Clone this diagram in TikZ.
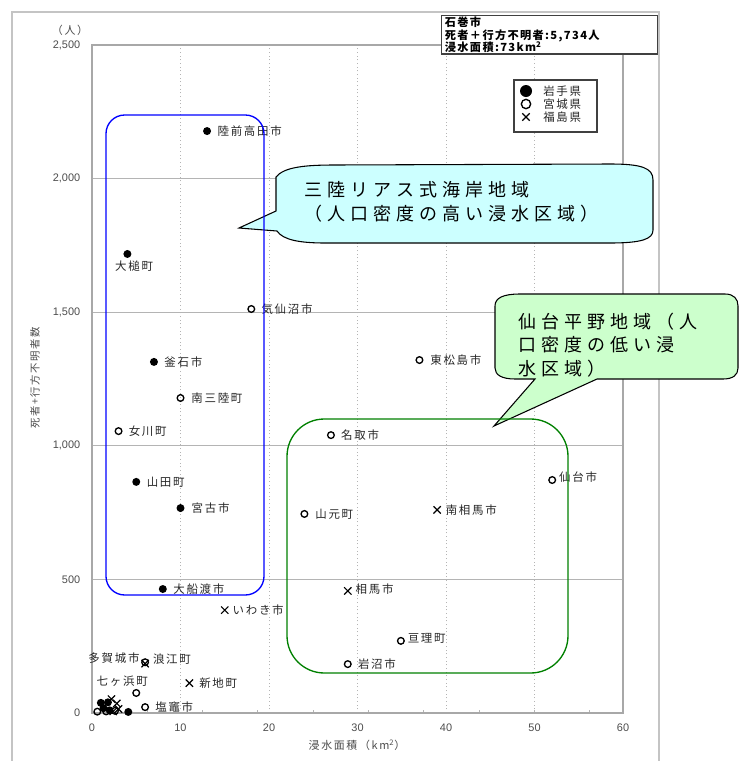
\documentclass[tikz,border=0pt]{standalone}
\usepackage{fontspec}
\setmainfont{Liberation Sans}
\newfontfamily\jpfont{Noto Sans CJK JP}[LetterSpace=15]
\newfontfamily\jpwide{Noto Sans CJK JP}[LetterSpace=28]
\newfontfamily\jpbox{Noto Sans CJK JP}[LetterSpace=12]
\usepackage{xcolor}
\usetikzlibrary{positioning}
\usetikzlibrary{shapes.misc}

\definecolor{framegray}{HTML}{C4C4C4}
\definecolor{gridgray}{HTML}{B4B4B4}
\definecolor{axisgray}{HTML}{A8A8A8}
\definecolor{cyanfill}{HTML}{CCFFFF}
\definecolor{greenfill}{HTML}{CCFFCC}
\definecolor{zonegreen}{HTML}{008000}

\begin{document}
\begin{tikzpicture}[x=0.75pt, y=-0.75pt, node distance=4.5pt,
	iwate/.style={circle, fill=black, inner sep=0pt, minimum size=6pt},
	miyagi/.style={circle, draw=black, line width=1pt, inner sep=0pt, minimum size=5pt},
	fukushima/.style={cross out, draw=black, line width=0.9pt, inner sep=0pt, minimum size=4.6pt},
	ptlabel/.style={font=\jpfont\fontsize{8.6}{10}\selectfont, text=black!85, inner sep=0pt},
	ticklabel/.style={font=\fontsize{8.2}{10}\selectfont, text=black!70, inner sep=0pt},
	gridline/.style={draw=gridgray, line width=0.75pt},
	calloutline/.style={draw=black, line width=0.8pt},
	callouttext/.style={font=\jpwide\fontsize{13.5}{17.6}\selectfont, align=left, inner sep=0pt},
	zone/.style={line width=1pt}]
	\useasboundingbox (0,0) rectangle (743,761);
	\draw[framegray, line width=1.2pt] (12,761) -- (12,12) -- (659,12) -- (659,761);

	% plot area in data units (km2, persons)
	\begin{scope}[shift={(92,713)}, x={(6.6375pt,0pt)}, y={(0pt,0.2004pt)}]
		\foreach \gx in {10,20,...,50}
			\draw[gridline, dotted] (\gx,0) -- (\gx,2500);
		\foreach \gy in {500,1000,...,2000}
			\draw[gridline] (0,\gy) -- (60,\gy);
		\foreach \k in {1,...,9}
			\draw[gridline] (\k*6.25,0) -- ++(0,10);
		\draw[axisgray, line width=1pt] (0,0) rectangle (60,2500);
		\foreach \gy/\txt in {0/0,500/500,1000/{1,000},1500/{1,500},2000/{2,000},2500/{2,500}}
			\node[ticklabel, anchor=east] (ytick\gy) at (-1.3,\gy) {\txt};
		\foreach \gx in {0,10,...,60}
			\node[ticklabel] (xtick\gx) at (\gx,-56) {\gx};

		% Iwate
		\node[iwate] (rikuzen) at (13,2178) {};
		\node[ptlabel, right=of rikuzen] (rikuzentxt) {陸前高田市};
		\node[iwate] (otsuchi) at (4,1718) {};
		\node[ptlabel, below=2pt of otsuchi, xshift=5pt] (otsuchitxt) {大槌町};
		\node[iwate] (kamaishi) at (7,1314) {};
		\node[ptlabel, right=of kamaishi] (kamaishitxt) {釜石市};
		\node[iwate] (yamada) at (5,865) {};
		\node[ptlabel, right=of yamada] (yamadatxt) {山田町};
		\node[iwate] (miyako) at (10,767) {};
		\node[ptlabel, right=5pt of miyako] (miyakotxt) {宮古市};
		\node[iwate] (ofunato) at (8,464) {};
		\node[ptlabel, right=of ofunato] (ofunatotxt) {大船渡市};
		% Miyagi
		\node[miyagi] (kesennuma) at (18,1512) {};
		\node[ptlabel, right=of kesennuma] (kesennumatxt) {気仙沼市};
		\node[miyagi] (minamisanriku) at (10,1179) {};
		\node[ptlabel, right=5pt of minamisanriku] (minamisanrikutxt) {南三陸町};
		\node[miyagi] (onagawa) at (3,1055) {};
		\node[ptlabel, right=of onagawa] (onagawatxt) {女川町};
		\node[miyagi] (higashimatsushima) at (37,1321) {};
		\node[ptlabel, right=5pt of higashimatsushima] (higashimatsushimatxt) {東松島市};
		\node[miyagi] (natori) at (27,1040) {};
		\node[ptlabel, right=of natori] (natoritxt) {名取市};
		\node[miyagi] (sendai) at (52,872) {};
		\node[ptlabel, right=2pt of sendai, yshift=2pt] (sendaitxt) {仙台市};
		\node[miyagi] (yamamoto) at (24,745) {};
		\node[ptlabel, right=5pt of yamamoto] (yamamototxt) {山元町};
		\node[miyagi] (watari) at (34.9,270) {};
		\node[ptlabel, right=2pt of watari, yshift=1.5pt] (wataritxt) {亘理町};
		\node[miyagi] (iwanuma) at (28.9,183) {};
		\node[ptlabel, right=of iwanuma] (iwanumatxt) {岩沼市};
		\node[miyagi] (tagajo) at (6,190) {};
		\node[ptlabel, left=1pt of tagajo, yshift=3pt] (tagajotxt) {多賀城市};
		\node[miyagi] (shichigahama) at (5,75) {};
		\node[ptlabel, above=1.5pt of shichigahama, xshift=-10.5pt] (shichigahamatxt) {七ヶ浜町};
		\node[miyagi] (shiogama) at (6,22) {};
		\node[ptlabel, right=of shiogama] (shiogamatxt) {塩竈市};
		% Fukushima
		\node[fukushima] (minamisoma) at (39,760) {};
		\node[ptlabel, right=3.5pt of minamisoma] (minamisomatxt) {南相馬市};
		\node[fukushima] (soma) at (28.9,457) {};
		\node[ptlabel, right=3pt of soma, yshift=1.5pt] (somatxt) {相馬市};
		\node[fukushima] (iwaki) at (15,385) {};
		\node[ptlabel, right=3pt of iwaki] (iwakitxt) {いわき市};
		\node[fukushima] (namie) at (6,185) {};
		\node[ptlabel, right=3pt of namie, yshift=3pt] (namietxt) {浪江町};
		\node[fukushima] (shinchi) at (11,112) {};
		\node[ptlabel, right=of shinchi] (shinchitxt) {新地町};
		% small towns near the origin
		\foreach \px/\py [count=\i] in {1.0/38,1.8/40,1.3/18,2.0/10,4.1/4}
			\node[iwate] (iwatesmall\i) at (\px,\py) {};
		\foreach \px/\py [count=\i] in {0.6/5,1.6/6,2.6/8}
			\node[miyagi] (miyagismall\i) at (\px,\py) {};
		\foreach \px/\py [count=\i] in {2.2/52,2.8/36,3.0/15,2.4/6}
			\node[fukushima] (fukushimasmall\i) at (\px,\py) {};
	\end{scope}

	\node[ticklabel, font=\jpfont\fontsize{8.2}{10}\selectfont] (yunit) at (70,30) {（人）};
	\node[ticklabel, font=\jpfont\fontsize{7.8}{9}\selectfont, rotate=90] (ytitle) at (35,378) {死者+行方不明者数};
	\node[ticklabel, font=\jpfont\fontsize{8.2}{10}\selectfont] (xtitle) at (357,745) {浸水面積（km\textsuperscript{2}）};

	% callouts
	\coordinate (sanrikutip) at (239,228);
	\draw[calloutline, fill=cyanfill] (276,177) .. controls (284,167) and (305,165) .. (335,165) -- (610,164) .. controls (642,164) and (653,168) .. (653,180) -- (653,230) .. controls (653,239) and (642,243) .. (610,243) -- (325,243) .. controls (300,243) and (283,240) .. (277,231) -- (sanrikutip) -- (276,211) -- cycle;
	\node[callouttext, anchor=west] (sanriku) at (304,202) {三陸リアス式海岸地域\\（人口密度の高い浸水区域）};
	\coordinate (sendaitip) at (494,426);
	\draw[calloutline, fill=greenfill] (495,306) .. controls (495,298) and (503,294) .. (520,294) -- (725,294) .. controls (734,294) and (738,299) .. (738,306) -- (738,368) .. controls (738,375) and (733,379) .. (723,379) -- (597,379) -- (sendaitip) -- (535,379) -- (515,379) .. controls (502,379) and (495,375) .. (495,368) -- cycle;
	\node[callouttext, anchor=west] (sendaiplain) at (518,345) {仙台平野地域（人\\口密度の低い浸\\水区域）};

	% zones
	\draw[zone, blue, rounded corners=14pt] (106,115) rectangle (264,595);
	\draw[zone, zonegreen, rounded corners=28pt] (287,419) rectangle (568,673);

	% Ishinomaki note
	\node[draw=black!75, line width=0.8pt, fill=white, anchor=north west, align=left, text width=157pt, inner xsep=2.5pt, inner ysep=1pt, minimum height=28.5pt, font=\jpbox\bfseries\fontsize{8.4}{9.4}\selectfont] (ishinomaki) at (441,15) {石巻市\\死者＋行方不明者:5,734人\\浸水面積:73km\textsuperscript{2}};

	% legend
	\node[draw=black!75, line width=0.8pt, fill=white, minimum width=62.25pt, minimum height=39pt] (legend) at (555.5,106) {};
	\node[iwate, minimum size=9pt] (lgiwate) at (526,91) {};
	\node[miyagi, minimum size=7pt] (lgmiyagi) at (526,104) {};
	\node[fukushima] (lgfukushima) at (526,117) {};
	\node[ptlabel, anchor=west] (lgiwatetxt) at (543,91) {岩手県};
	\node[ptlabel, anchor=west] (lgmiyagitxt) at (543,104) {宮城県};
	\node[ptlabel, anchor=west] (lgfukushimatxt) at (543,117) {福島県};
\end{tikzpicture}
\end{document}
